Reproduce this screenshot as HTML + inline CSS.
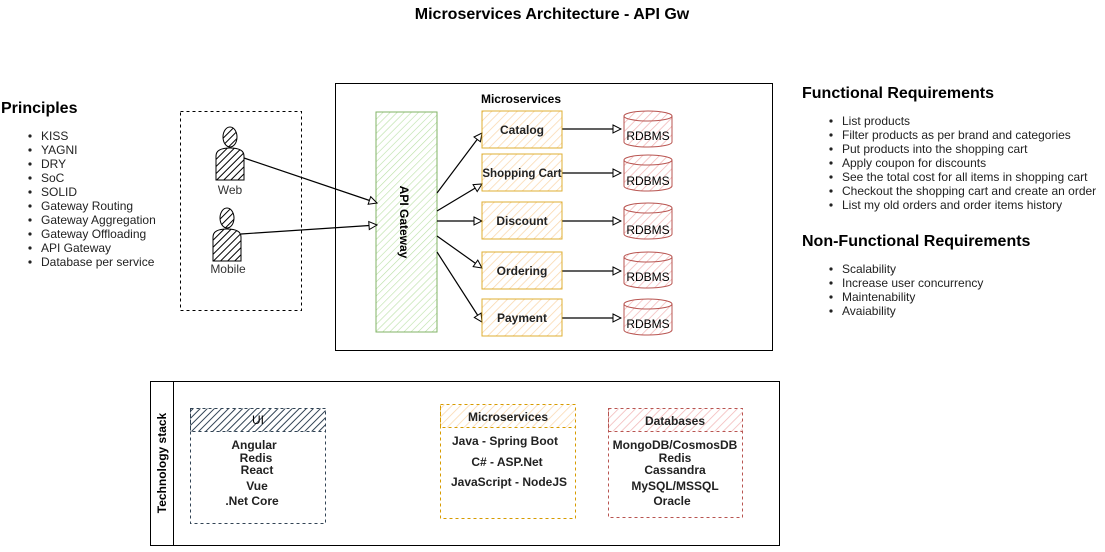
<!DOCTYPE html>
<html><head><meta charset="utf-8"><style>
body{margin:0;width:1105px;height:547px;background:#fff;overflow:hidden}
svg text{font-family:"Liberation Sans",Arial,sans-serif}
</style></head><body>
<svg width="1105" height="547" xmlns="http://www.w3.org/2000/svg">
<defs>
<pattern id="hg" width="5" height="5" patternUnits="userSpaceOnUse" patternTransform="rotate(45)"><line x1="0" y1="0" x2="0" y2="5" stroke="#b9e0a5" stroke-width="1.2"/></pattern>
<pattern id="ho" width="6" height="6" patternUnits="userSpaceOnUse" patternTransform="rotate(45)"><line x1="0" y1="0" x2="0" y2="6" stroke="#fad7ac" stroke-width="1.5"/></pattern>
<pattern id="hr" width="6" height="6" patternUnits="userSpaceOnUse" patternTransform="rotate(45)"><line x1="0" y1="0" x2="0" y2="6" stroke="#f2b8b8" stroke-width="1.5"/></pattern>
<pattern id="hb" width="5" height="5" patternUnits="userSpaceOnUse" patternTransform="rotate(45)"><line x1="0" y1="0" x2="0" y2="5" stroke="#000" stroke-width="2"/></pattern>
<pattern id="hs" width="5" height="5" patternUnits="userSpaceOnUse" patternTransform="rotate(45)"><line x1="0" y1="0" x2="0" y2="5" stroke="#314354" stroke-width="2"/></pattern>
<marker id="ar" markerWidth="10" markerHeight="10" refX="9" refY="5" orient="auto" markerUnits="userSpaceOnUse"><path d="M1,1 L9,5 L1,9 Z" fill="#fff" stroke="#000"/></marker>
</defs>
<text x="552" y="19" font-size="16" font-weight="bold" text-anchor="middle">Microservices Architecture - API Gw</text>

<text x="1" y="113" font-size="16" font-weight="bold">Principles</text>
<g font-size="12" fill="#222">
<text x="41" y="140">KISS</text><text x="41" y="154">YAGNI</text><text x="41" y="168">DRY</text><text x="41" y="182">SoC</text><text x="41" y="196">SOLID</text><text x="41" y="210">Gateway Routing</text><text x="41" y="224">Gateway Aggregation</text><text x="41" y="238">Gateway Offloading</text><text x="41" y="252">API Gateway</text><text x="41" y="266">Database per service</text>
</g>
<g fill="#222"><circle cx="30" cy="136" r="1.6"/><circle cx="30" cy="150" r="1.6"/><circle cx="30" cy="164" r="1.6"/><circle cx="30" cy="178" r="1.6"/><circle cx="30" cy="192" r="1.6"/><circle cx="30" cy="206" r="1.6"/><circle cx="30" cy="220" r="1.6"/><circle cx="30" cy="234" r="1.6"/><circle cx="30" cy="248" r="1.6"/><circle cx="30" cy="262" r="1.6"/></g>

<text x="802" y="98" font-size="16" font-weight="bold">Functional Requirements</text>
<g font-size="12" fill="#222">
<text x="842" y="125">List products</text><text x="842" y="139">Filter products as per brand and categories</text><text x="842" y="153">Put products into the shopping cart</text><text x="842" y="167">Apply coupon for discounts</text><text x="842" y="181">See the total cost for all items in shopping cart</text><text x="842" y="195">Checkout the shopping cart and create an order</text><text x="842" y="209">List my old orders and order items history</text>
</g>
<g fill="#222"><circle cx="831" cy="121" r="1.6"/><circle cx="831" cy="135" r="1.6"/><circle cx="831" cy="149" r="1.6"/><circle cx="831" cy="163" r="1.6"/><circle cx="831" cy="177" r="1.6"/><circle cx="831" cy="191" r="1.6"/><circle cx="831" cy="205" r="1.6"/></g>
<text x="802" y="246" font-size="16" font-weight="bold">Non-Functional Requirements</text>
<g font-size="12" fill="#222">
<text x="842" y="273">Scalability</text><text x="842" y="287">Increase user concurrency</text><text x="842" y="301">Maintenability</text><text x="842" y="315">Avaiability</text>
</g>
<g fill="#222"><circle cx="831" cy="269" r="1.6"/><circle cx="831" cy="283" r="1.6"/><circle cx="831" cy="297" r="1.6"/><circle cx="831" cy="311" r="1.6"/></g>

<rect x="335.5" y="83.5" width="437" height="267" fill="none" stroke="#000"/>
<text x="521" y="103" font-size="12" font-weight="bold" text-anchor="middle">Microservices</text>
<rect x="180.5" y="111.5" width="121" height="199" fill="none" stroke="#000" stroke-dasharray="3,3"/>

<g stroke="#000" stroke-width="1">
<ellipse cx="230" cy="137" rx="7" ry="10" fill="url(#hb)"/>
<path d="M216,180 L216,156 Q216,148 230,148 Q244,148 244,156 L244,180 Z" fill="url(#hb)"/>
<ellipse cx="227" cy="218" rx="7" ry="10" fill="url(#hb)"/>
<path d="M213,261 L213,237 Q213,229 227,229 Q241,229 241,237 L241,261 Z" fill="url(#hb)"/>
</g>
<text x="230" y="194" font-size="12" text-anchor="middle" fill="#333">Web</text>
<text x="228" y="273" font-size="12" text-anchor="middle" fill="#333">Mobile</text>

<rect x="376" y="112" width="61" height="220" fill="url(#hg)" stroke="#82b366"/>
<text transform="translate(400,222) rotate(90)" font-size="12" font-weight="bold" text-anchor="middle">API Gateway</text>

<g stroke="#000" stroke-width="1.2" fill="none" marker-end="url(#ar)">
<line x1="244" y1="158" x2="377" y2="203"/>
<line x1="241" y1="234" x2="377" y2="225"/>
<line x1="437" y1="193" x2="482" y2="133"/>
<line x1="437" y1="211" x2="482" y2="184"/>
<line x1="437" y1="221" x2="482" y2="221"/>
<line x1="437" y1="236" x2="482" y2="268"/>
<line x1="437" y1="252" x2="482" y2="322"/>
<line x1="562" y1="129" x2="621" y2="129"/>
<line x1="562" y1="173" x2="621" y2="173"/>
<line x1="562" y1="221" x2="621" y2="221"/>
<line x1="562" y1="271" x2="621" y2="271"/>
<line x1="562" y1="318" x2="621" y2="318"/>
</g>

<g font-size="12" font-weight="bold" text-anchor="middle" fill="#222">
<rect x="482" y="111" width="80" height="37" fill="url(#ho)" stroke="#d79b00" stroke-opacity="0.8"/><text x="522" y="134">Catalog</text>
<rect x="482" y="154" width="80" height="37" fill="url(#ho)" stroke="#d79b00" stroke-opacity="0.8"/><text x="522" y="177" font-size="11.5">Shopping Cart</text>
<rect x="482" y="202" width="80" height="37" fill="url(#ho)" stroke="#d79b00" stroke-opacity="0.8"/><text x="522" y="225">Discount</text>
<rect x="482" y="252" width="80" height="37" fill="url(#ho)" stroke="#d79b00" stroke-opacity="0.8"/><text x="522" y="275">Ordering</text>
<rect x="482" y="299" width="80" height="37" fill="url(#ho)" stroke="#d79b00" stroke-opacity="0.8"/><text x="522" y="322">Payment</text>
</g>

<g stroke="#b85450" fill="url(#hr)">
<path d="M624,116 L624,142 A24,5 0 0 0 672,142 L672,116 A24,5 0 0 0 624,116 Z"/><path d="M624,116 A24,5 0 0 0 672,116" fill="none"/>
<path d="M624,160 L624,186 A24,5 0 0 0 672,186 L672,160 A24,5 0 0 0 624,160 Z"/><path d="M624,160 A24,5 0 0 0 672,160" fill="none"/>
<path d="M624,208 L624,234 A24,5 0 0 0 672,234 L672,208 A24,5 0 0 0 624,208 Z"/><path d="M624,208 A24,5 0 0 0 672,208" fill="none"/>
<path d="M624,257 L624,283 A24,5 0 0 0 672,283 L672,257 A24,5 0 0 0 624,257 Z"/><path d="M624,257 A24,5 0 0 0 672,257" fill="none"/>
<path d="M624,304 L624,330 A24,5 0 0 0 672,330 L672,304 A24,5 0 0 0 624,304 Z"/><path d="M624,304 A24,5 0 0 0 672,304" fill="none"/>
</g>
<g font-size="12" text-anchor="middle" fill="#000">
<text x="648" y="140">RDBMS</text><text x="648" y="185">RDBMS</text><text x="648" y="234">RDBMS</text><text x="648" y="281">RDBMS</text><text x="648" y="328">RDBMS</text>
</g>

<rect x="150.5" y="381.5" width="629" height="164" fill="none" stroke="#000"/>
<line x1="173.5" y1="381" x2="173.5" y2="546" stroke="#000"/>
<text transform="translate(166,463) rotate(-90)" font-size="12" font-weight="bold" text-anchor="middle">Technology stack</text>

<rect x="190.5" y="408.5" width="135" height="115" fill="none" stroke="#314354" stroke-dasharray="3,3"/>
<rect x="190.5" y="408.5" width="135" height="23" fill="url(#hs)" stroke="#314354" stroke-dasharray="3,3"/>
<text x="258" y="424" font-size="12" text-anchor="middle">UI</text>
<g font-size="12" font-weight="bold" text-anchor="middle" fill="#222">
<text x="254" y="449">Angular</text><text x="256" y="462">Redis</text><text x="257" y="474">React</text><text x="257" y="490">Vue</text><text x="252" y="505">.Net Core</text>
</g>

<rect x="440.5" y="404.5" width="135" height="114" fill="none" stroke="#d79b00" stroke-dasharray="3,3"/>
<rect x="440.5" y="404.5" width="135" height="23" fill="url(#ho)" stroke="#d79b00" stroke-dasharray="3,3"/>
<g font-size="12" font-weight="bold" text-anchor="middle" fill="#222">
<text x="508" y="421">Microservices</text>
<text x="505" y="445">Java - Spring Boot</text><text x="507" y="466">C# - ASP.Net</text><text x="509" y="486">JavaScript - NodeJS</text>
</g>

<rect x="608.5" y="408.5" width="134" height="109" fill="none" stroke="#b85450" stroke-dasharray="3,3"/>
<rect x="608.5" y="408.5" width="134" height="23" fill="url(#hr)" stroke="#b85450" stroke-dasharray="3,3"/>
<g font-size="12" font-weight="bold" text-anchor="middle" fill="#222">
<text x="675" y="425">Databases</text>
<text x="675" y="449">MongoDB/CosmosDB</text><text x="675" y="462">Redis</text><text x="675" y="474">Cassandra</text><text x="675" y="490">MySQL/MSSQL</text><text x="672" y="505">Oracle</text>
</g>
</svg>
</body></html>
